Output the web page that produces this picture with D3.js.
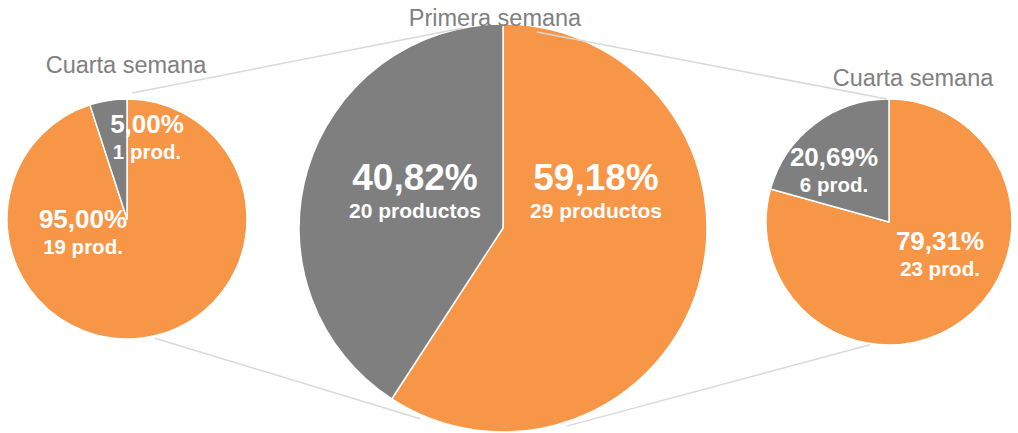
<!DOCTYPE html>
<html>
<head>
<meta charset="utf-8">
<script src="https://cdn.jsdelivr.net/npm/d3@7"></script>
<style>
  body { margin: 0; background: #fff; }
  svg { display: block; font-family: "Liberation Sans", Arial, Helvetica, sans-serif; }
</style>
</head>
<body>
<svg width="1018" height="433"></svg>
<script>
// Data: products per week, in drawing order (orange first, then gray)
var weekTitles = ['Cuarta semana', 'Primera semana', 'Cuarta semana'];
var categories = ['A', 'B'];
var leftCounts = [19, 1];
var middleCounts = [29, 20];
var rightCounts = [23, 6];
var countUnits = ['prod.', 'productos', 'prod.'];

var colors = d3.scaleOrdinal().domain(categories).range(['#F79646', '#7F7F7F']);

var svg = d3.select('svg');

// Layout for each pie: centre, radius, title position, label offsets
var pies = [
    {counts: leftCounts, cx: 127, cy: 219, r: 120, titleX: 126, titleY: 73,
     pctSize: 26, cntSize: 20.5, gap: 26,
     labels: [[-44, 9], [20, -86]]},
    {counts: middleCounts, cx: 503, cy: 228, r: 204, titleX: 495, titleY: 26,
     pctSize: 37, cntSize: 21, gap: 28,
     labels: [[93, -38], [-88, -38]]},
    {counts: rightCounts, cx: 889, cy: 222, r: 123, titleX: 913, titleY: 86,
     pctSize: 26, cntSize: 20.5, gap: 26,
     labels: [[51, 28], [-55, -56]]}
];

var pie = d3.pie().sort(null).value(function(d) { return d; });
var fmtPct = function(v) { return d3.format('.2f')(v * 100).replace('.', ',') + '%'; };

pies.forEach(function(p, i) {
    var total = d3.sum(p.counts);
    var arc = d3.arc().innerRadius(0).outerRadius(p.r);
    var g = svg.append('g').attr('transform', 'translate(' + [p.cx, p.cy] + ')');

    g.selectAll('path')
        .data(pie(p.counts))
        .enter().append('path')
        .attr('d', arc)
        .attr('fill', function(d, j) { return colors(categories[j]); })
        .attr('stroke', '#fff')
        .attr('stroke-width', 1.5)
        .attr('stroke-linejoin', 'round');

    var labels = g.selectAll('.label')
        .data(p.counts)
        .enter().append('g')
        .attr('class', 'label')
        .attr('transform', function(d, j) { return 'translate(' + p.labels[j] + ')'; })
        .attr('fill', '#fff')
        .attr('font-weight', 'bold')
        .attr('text-anchor', 'middle');

    labels.append('text')
        .attr('font-size', p.pctSize)
        .text(function(d) { return fmtPct(d / total); });

    labels.append('text')
        .attr('y', p.gap)
        .attr('font-size', p.cntSize)
        .text(function(d) { return d + ' ' + countUnits[i]; });

    svg.append('text')
        .attr('x', p.titleX)
        .attr('y', p.titleY)
        .attr('text-anchor', 'middle')
        .attr('font-size', 23.5)
        .attr('fill', '#808080')
        .text(weekTitles[i]);
});

// Connector lines between pies: [pie, angle from top clockwise (deg), radius factor]
var connectors = [
    [[0, 2.3, 1.05], [1, -11.3, 1.0]],
    [[0, 166.8, 1.02], [1, 203.5, 1.02]],
    [[1, 9.8, 0.975], [2, -1, 1.0]],
    [[1, 162.2, 1.02], [2, 188.8, 1.01]]
];

function polar(spec) {
    var p = pies[spec[0]];
    var a = spec[1] * Math.PI / 180;
    return [p.cx + Math.sin(a) * p.r * spec[2], p.cy - Math.cos(a) * p.r * spec[2]];
}

svg.selectAll('.connector')
    .data(connectors)
    .enter().append('line')
    .attr('class', 'connector')
    .attr('x1', function(d) { return polar(d[0])[0]; })
    .attr('y1', function(d) { return polar(d[0])[1]; })
    .attr('x2', function(d) { return polar(d[1])[0]; })
    .attr('y2', function(d) { return polar(d[1])[1]; })
    .attr('stroke', '#D9D9D9')
    .attr('stroke-width', 1.5);
</script>
</body>
</html>
